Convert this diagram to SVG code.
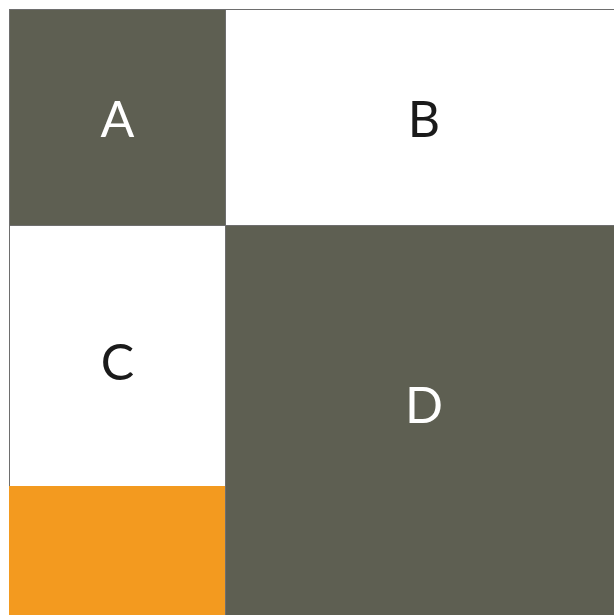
<svg xmlns="http://www.w3.org/2000/svg" width="614" height="615" viewBox="0 0 614 615">
<style>
.cell{stroke:#6e6e6e;stroke-width:1}
.dark{fill:#5e5f52}
.light{fill:#ffffff}
.orange{fill:#f39a1f}
text{font-family:"Lato","Open Sans",sans-serif;font-size:50px;text-anchor:middle}
.tl{fill:#ffffff}
.td{fill:#1a1a1a}
</style>
<rect x="0" y="0" width="614" height="615" fill="#ffffff"/>
<g id="A"><rect class="cell dark" x="9.5" y="9.5" width="216" height="216"/><text class="tl" x="117.5" y="137">A</text></g>
<g id="B"><rect class="cell light" x="225.5" y="9.5" width="390" height="216"/><text class="td" x="424" y="137">B</text></g>
<g id="C"><rect class="cell light" x="9.5" y="225.5" width="216" height="261"/><text class="td" x="117.5" y="380">C</text></g>
<g id="E"><rect class="orange" x="9" y="486" width="216" height="130"/></g>
<g id="D"><rect class="cell dark" x="225.5" y="225.5" width="390" height="391"/><text class="tl" x="424" y="423">D</text></g>
<g id="connectors"></g>
</svg>
